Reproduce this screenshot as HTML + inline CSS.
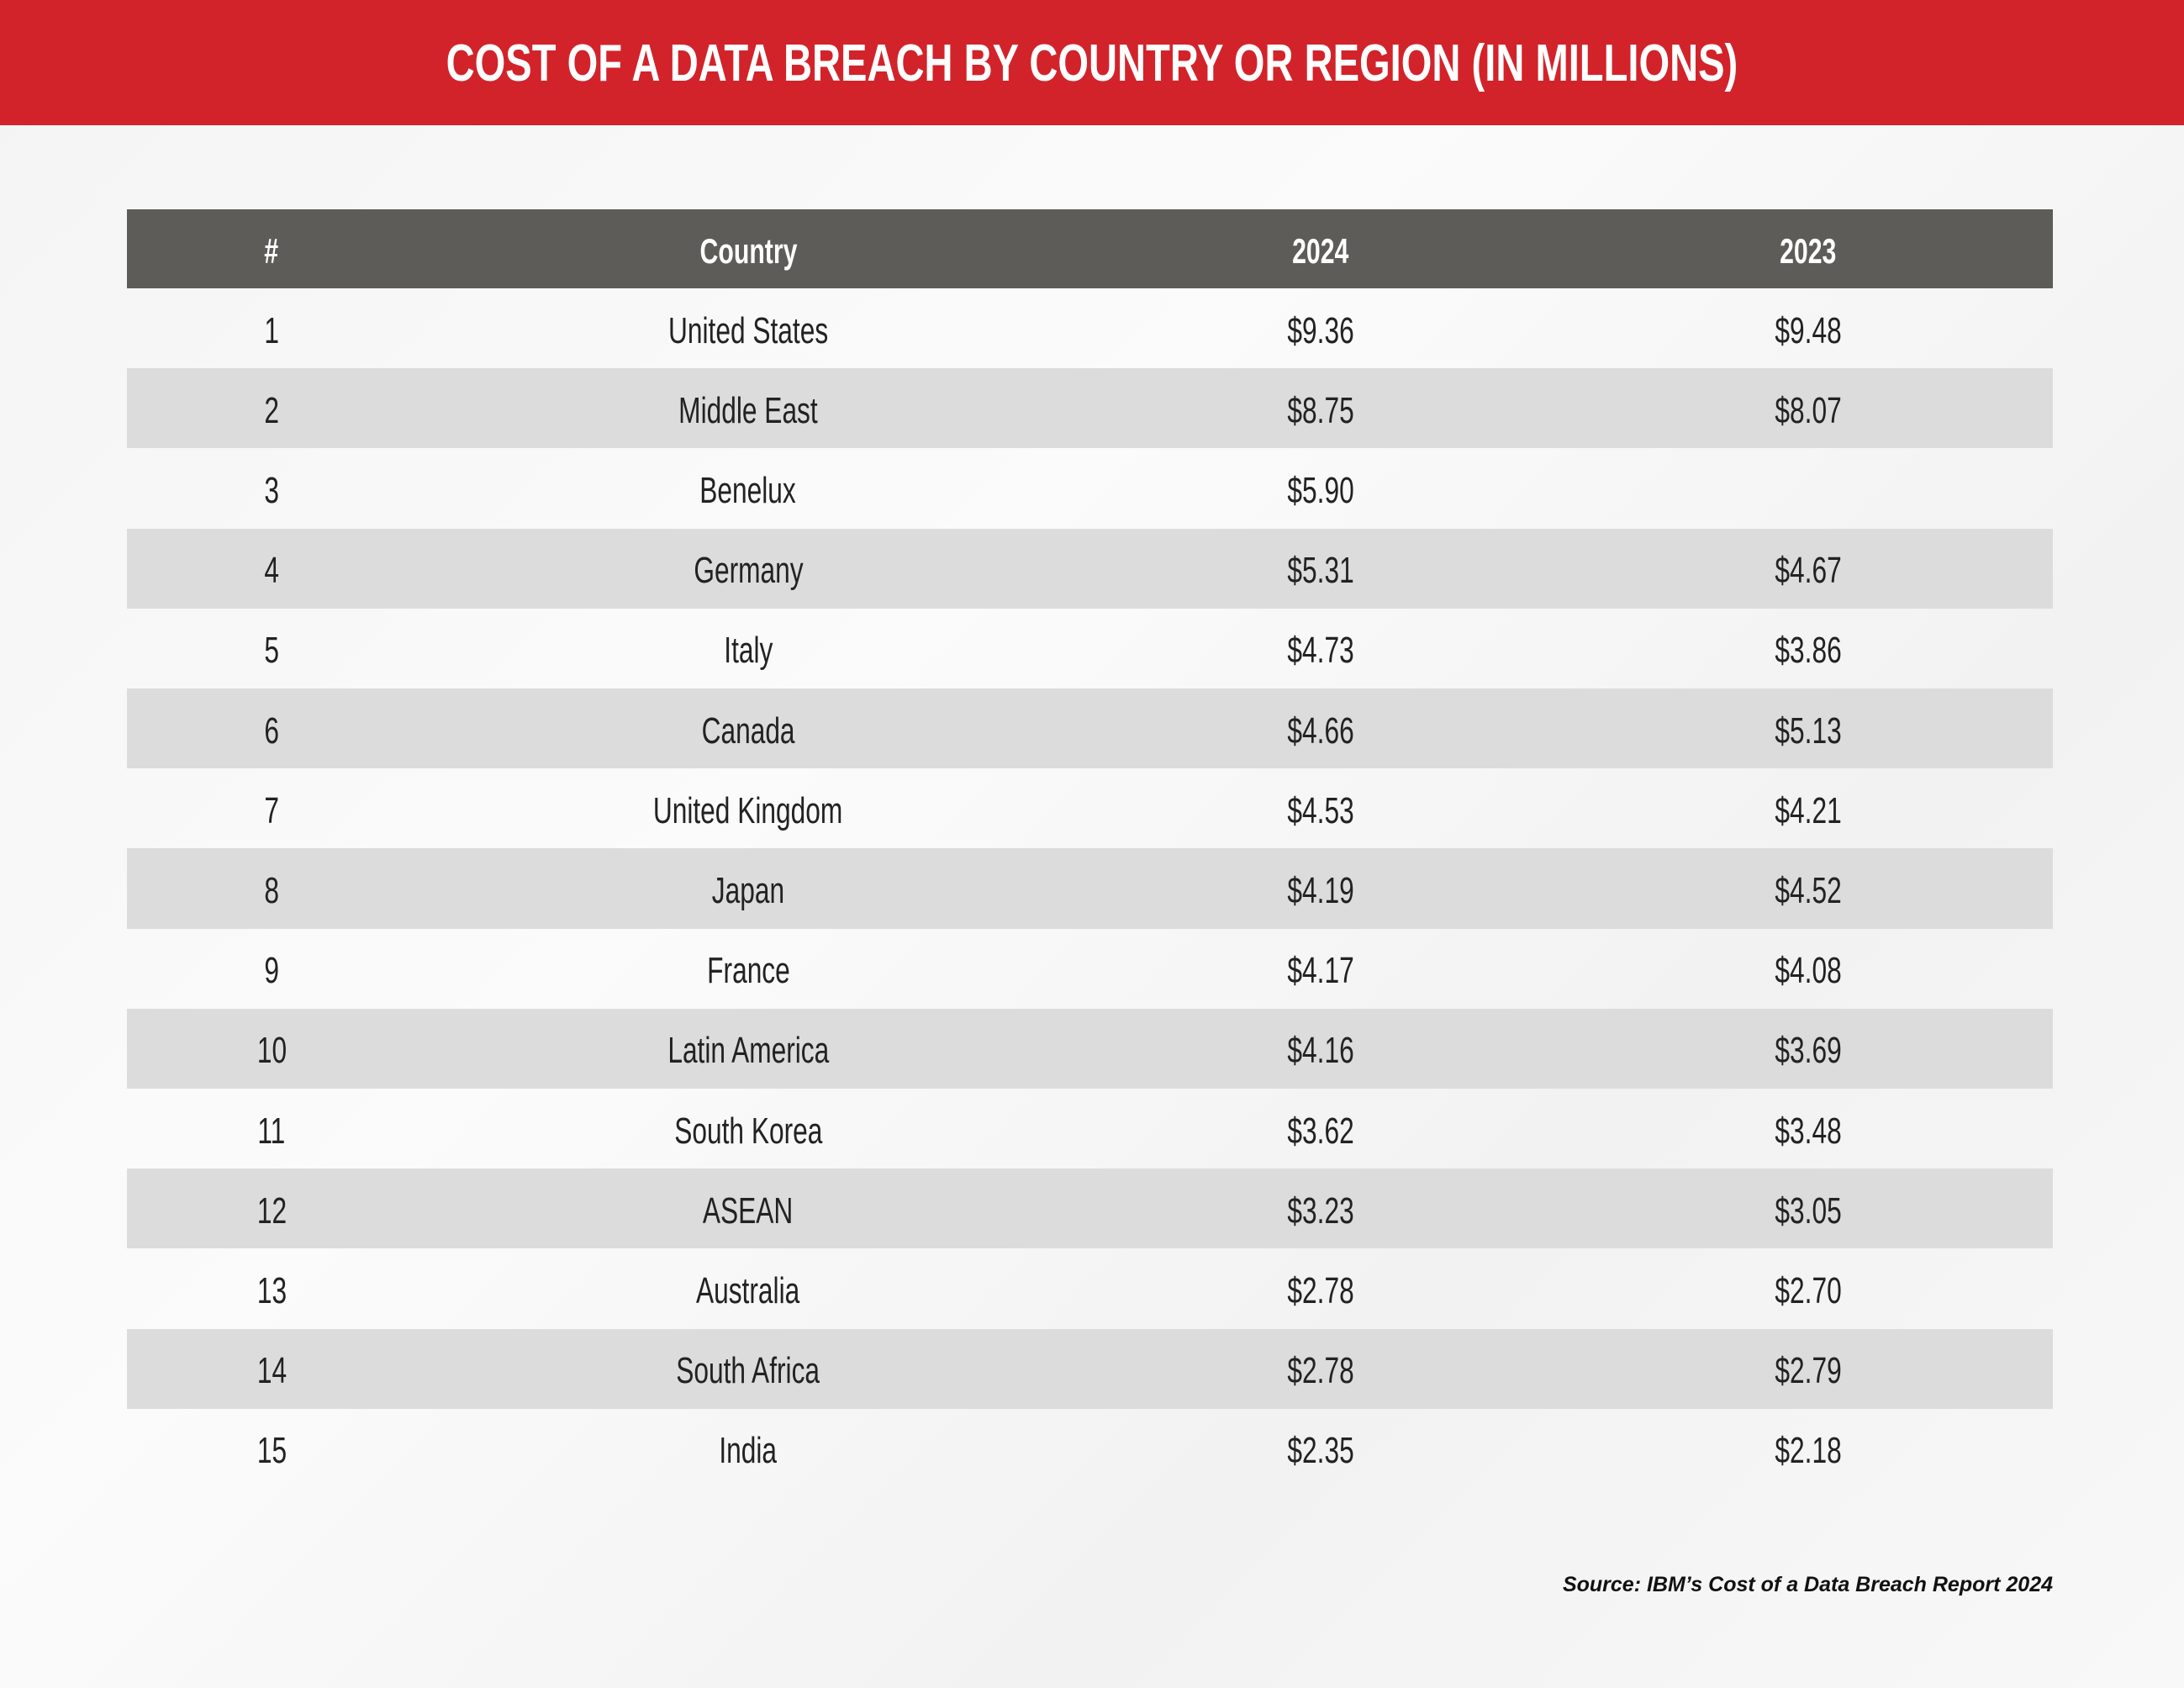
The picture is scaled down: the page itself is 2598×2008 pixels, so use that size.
<!DOCTYPE html>
<html><head><meta charset="utf-8"><style>
html,body{margin:0;padding:0}
body{width:2598px;height:2008px;position:relative;overflow:hidden;background:linear-gradient(135deg,#f4f4f4 0%,#fbfbfb 40%,#f2f2f2 70%,#f8f8f8 100%);font-family:"Liberation Sans",sans-serif}
.title{position:absolute;left:0;top:0;width:2598px;height:149px;background:#d2232a;color:#fff;font-weight:bold;font-size:62px;line-height:152px;text-align:center}
.title span{display:inline-block;transform:scaleX(0.76)}
.row{position:absolute;left:151px;width:2291px;height:95.2px}
.hdr{background:#5d5c58;color:#fff;top:249px;height:94px}
.g{background:#dcdcdd}
.c{position:absolute;top:3px;height:100%;display:flex;align-items:center;justify-content:center;font-size:44px;color:#222;width:600px}
.c span{display:inline-block;transform:scaleX(0.72)}
.hdr .c{color:#fff;font-weight:bold;font-size:42px}
.c1{left:-128px}.c2{left:439px}.c3{left:1120px}.c4{left:1700px}
.src{position:absolute;right:156px;top:1871px;font-size:25px;font-weight:bold;font-style:italic;color:#111}
</style></head><body>
<div class="title"><span>COST OF A DATA BREACH BY COUNTRY OR REGION (IN MILLIONS)</span></div>
<div class="row hdr"><div class="c c1"><span>#</span></div><div class="c c2"><span>Country</span></div><div class="c c3"><span>2024</span></div><div class="c c4"><span>2023</span></div></div>
<div class="row" style="top:343px"><div class="c c1"><span>1</span></div><div class="c c2"><span>United States</span></div><div class="c c3"><span>$9.36</span></div><div class="c c4"><span>$9.48</span></div></div>
<div class="row g" style="top:438.2px"><div class="c c1"><span>2</span></div><div class="c c2"><span>Middle East</span></div><div class="c c3"><span>$8.75</span></div><div class="c c4"><span>$8.07</span></div></div>
<div class="row" style="top:533.4px"><div class="c c1"><span>3</span></div><div class="c c2"><span>Benelux</span></div><div class="c c3"><span>$5.90</span></div><div class="c c4"><span></span></div></div>
<div class="row g" style="top:628.6px"><div class="c c1"><span>4</span></div><div class="c c2"><span>Germany</span></div><div class="c c3"><span>$5.31</span></div><div class="c c4"><span>$4.67</span></div></div>
<div class="row" style="top:723.8px"><div class="c c1"><span>5</span></div><div class="c c2"><span>Italy</span></div><div class="c c3"><span>$4.73</span></div><div class="c c4"><span>$3.86</span></div></div>
<div class="row g" style="top:819px"><div class="c c1"><span>6</span></div><div class="c c2"><span>Canada</span></div><div class="c c3"><span>$4.66</span></div><div class="c c4"><span>$5.13</span></div></div>
<div class="row" style="top:914.2px"><div class="c c1"><span>7</span></div><div class="c c2"><span>United Kingdom</span></div><div class="c c3"><span>$4.53</span></div><div class="c c4"><span>$4.21</span></div></div>
<div class="row g" style="top:1009.4px"><div class="c c1"><span>8</span></div><div class="c c2"><span>Japan</span></div><div class="c c3"><span>$4.19</span></div><div class="c c4"><span>$4.52</span></div></div>
<div class="row" style="top:1104.6px"><div class="c c1"><span>9</span></div><div class="c c2"><span>France</span></div><div class="c c3"><span>$4.17</span></div><div class="c c4"><span>$4.08</span></div></div>
<div class="row g" style="top:1199.8px"><div class="c c1"><span>10</span></div><div class="c c2"><span>Latin America</span></div><div class="c c3"><span>$4.16</span></div><div class="c c4"><span>$3.69</span></div></div>
<div class="row" style="top:1295px"><div class="c c1"><span>11</span></div><div class="c c2"><span>South Korea</span></div><div class="c c3"><span>$3.62</span></div><div class="c c4"><span>$3.48</span></div></div>
<div class="row g" style="top:1390.2px"><div class="c c1"><span>12</span></div><div class="c c2"><span>ASEAN</span></div><div class="c c3"><span>$3.23</span></div><div class="c c4"><span>$3.05</span></div></div>
<div class="row" style="top:1485.4px"><div class="c c1"><span>13</span></div><div class="c c2"><span>Australia</span></div><div class="c c3"><span>$2.78</span></div><div class="c c4"><span>$2.70</span></div></div>
<div class="row g" style="top:1580.6px"><div class="c c1"><span>14</span></div><div class="c c2"><span>South Africa</span></div><div class="c c3"><span>$2.78</span></div><div class="c c4"><span>$2.79</span></div></div>
<div class="row" style="top:1675.8px"><div class="c c1"><span>15</span></div><div class="c c2"><span>India</span></div><div class="c c3"><span>$2.35</span></div><div class="c c4"><span>$2.18</span></div></div>
<div class="src">Source: IBM’s Cost of a Data Breach Report 2024</div>
</body></html>
